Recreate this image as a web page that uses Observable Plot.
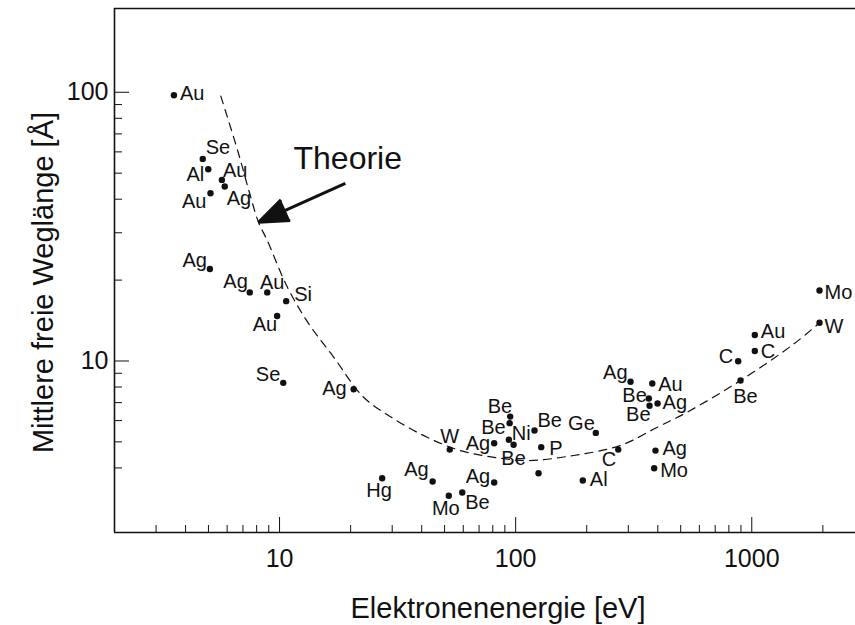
<!DOCTYPE html>
<html><head><meta charset="utf-8">
<script src="https://cdn.jsdelivr.net/npm/d3@7"></script>
<script src="https://cdn.jsdelivr.net/npm/@observablehq/plot@0.6"></script>
<style>
html,body{margin:0;padding:0;background:#fff;}
#chart svg{display:block}
</style></head><body><div id="chart"></div>
<script>
// Measured points: element, electron energy [eV], mean free path [Å]
const elements = ["Au","Se","Al","Au","Ag","Au","Ag","Ag","Au","Si","Au","Se","Ag","W","Ag","Be","Be","Ni","Be","Be","P","Ge","","Al","C","Ag","Mo","Ag","Au","Be","Be","Ag","C","Au","C","Be","Mo","W","Hg","Ag","Ag","Mo","Be"];
const energies = [3.57,4.73,4.99,5.70,5.86,5.10,5.07,7.48,8.87,10.67,9.77,10.37,20.6,52.6,81.1,94.8,94.3,93.6,98.0,120.2,128.3,218.5,125,192.5,272,391,386,306.6,379,366.5,369,399,876,1030,1030,896,1936,1936,27.2,44.5,81.1,52.1,59.4];
const lengths = [97.5,56.5,51.7,47.2,44.6,42.1,22.0,18.0,18.0,16.7,14.7,8.29,7.85,4.68,4.94,6.21,5.87,5.09,4.88,5.51,4.78,5.40,3.82,3.59,4.68,4.64,3.99,8.37,8.25,7.25,6.81,6.95,9.98,12.5,10.9,8.46,18.3,13.87,3.66,3.56,3.53,3.15,3.24];

// Label placement (pixels relative to the dot) — layout only
const labelDx = [6,3,-4,1,2,-4, -3,-2,5,8,0,-3, -7,0,-4,2,-4,3, 0,3,8,-1,0, 7,-2,7,6,-3, 6,-2,1,5,-5, 6,6,5,5,5, -3,-4,-4,-3,3];
const labelDy = [-2,-11,5,-9,12,8, -8,-11,-10,-7,9,-8, -1,-13,0,-10,4,-6, 14,-10,1,-9,0, -1,10,-2,2,-9, 1,-3,9,-1,-5, -3,1,16,2,4, 12,-12,-6,13,10];
const labelAnchor = ["s","s","e","s","s","e", "e","e","m","s","e","e", "e","m","e","e","e","s", "m","s","s","e","s", "s","e","s","s","e", "s","e","e","s","e", "s","s","m","s","s", "m","e","e","m","s"];

// Theory curve
const theoryE = [5.64,6.68,7.48,8.15,8.87,10.8,13.3,17.0,22.7,30.5,42.2,58.4,81,112,176,278,398,533,896,1508,1936];
const theoryL = [96.7,59.8,41.9,32.8,28.1,18.8,13.75,10.3,7.33,6.09,5.20,4.64,4.38,4.26,4.45,4.85,5.67,6.45,8.46,11.58,13.87];

// Annotation
const theoryText = "Theorie";
const theoryTextPos = [11.46, 56.4];
const arrowFrom = [19.0, 45.8];
const arrowTo = [8.15, 32.8];

// Ticks
const xMajor = [10, 100, 1000];
const xMinor = [3,4,5,6,7,8,9,20,30,40,50,60,70,80,90,200,300,400,500,600,700,800,900,2000];
const yMajor = [10, 100];
const yMinor = [4,5,6,7,8,9,20,30,40,50,60,70,80,90];

const xTitle = "Elektronenenergie [eV]";
const yTitle = "Mittlere freie Weglänge [Å]";

const pts = elements.map((el, i) => ({el, e: energies[i], l: lengths[i]}));
const theory = theoryE.map((e, i) => ({e, l: theoryL[i]}));
const anchorMap = {s: "start", e: "end", m: "middle"};
const ink = "#111";

const labelMarks = pts.map((p, i) => Plot.text([p], {
  x: "e", y: "l", text: "el", dx: labelDx[i], dy: labelDy[i],
  textAnchor: anchorMap[labelAnchor[i]], fontSize: 20, fill: ink
}));

const chart = Plot.plot({
  width: 855, height: 625,
  marginTop: 8, marginBottom: 93, marginLeft: 114, marginRight: 0,
  style: {fontFamily: "'Liberation Sans', Arial, Helvetica, sans-serif", background: "#fff", color: ink, overflow: "visible"},
  x: {type: "log", domain: [2, 2750], label: null},
  y: {type: "log", domain: [2.3, 205], label: null},
  marks: [
    Plot.axisX(xMinor, {anchor: "bottom", tickSize: -7, tickFormat: () => "", label: null, strokeWidth: 1}),
    Plot.axisX(xMajor, {anchor: "bottom", tickSize: -15, tickFormat: () => "", label: null, strokeWidth: 1}),
    Plot.axisX(xMajor, {anchor: "bottom", tickSize: 0, tickPadding: 17, fontSize: 25, tickFormat: d => String(d), label: null}),
    Plot.axisY(yMinor, {anchor: "left", tickSize: -8, tickFormat: () => "", label: null, strokeWidth: 1}),
    Plot.axisY(yMajor, {anchor: "left", tickSize: -15, tickFormat: () => "", label: null, strokeWidth: 1}),
    Plot.axisY(yMajor, {anchor: "left", tickSize: 0, tickPadding: 6, fontSize: 25, tickFormat: d => String(d), label: null}),
    Plot.ruleY([205], {stroke: ink, strokeWidth: 1.6}),
    Plot.ruleY([2.3], {stroke: ink, strokeWidth: 1.6}),
    Plot.ruleX([2], {stroke: ink, strokeWidth: 1.6}),
    Plot.line(theory, {x: "e", y: "l", curve: "catmull-rom", stroke: ink, strokeWidth: 1.2, strokeDasharray: "8,6"}),
    Plot.arrow([{x1: arrowFrom[0], y1: arrowFrom[1], x2: arrowTo[0], y2: arrowTo[1]}], {
      x1: "x1", y1: "y1", x2: "x2", y2: "y2", headLength: 22, headAngle: 42,
      strokeWidth: 3, stroke: ink, fill: ink, strokeLinejoin: "miter", strokeLinecap: "butt"
    }),
    Plot.text([theoryText], {x: () => theoryTextPos[0], y: () => theoryTextPos[1], text: d => d, textAnchor: "start", fontSize: 32, fill: ink}),
    Plot.dot(pts, {x: "e", y: "l", r: 3.2, fill: ink, stroke: "none"}),
    ...labelMarks,
    Plot.text([xTitle], {frameAnchor: "bottom", text: d => d, textAnchor: "middle", lineAnchor: "middle", dx: 13, dy: 76, fontSize: 29, fill: ink}),
    Plot.text([yTitle], {frameAnchor: "left", text: d => d, textAnchor: "middle", lineAnchor: "middle", dx: -71, dy: 12, rotate: -90, fontSize: 29, fill: ink})
  ]
});
document.getElementById("chart").appendChild(chart);
</script>
</body></html>
